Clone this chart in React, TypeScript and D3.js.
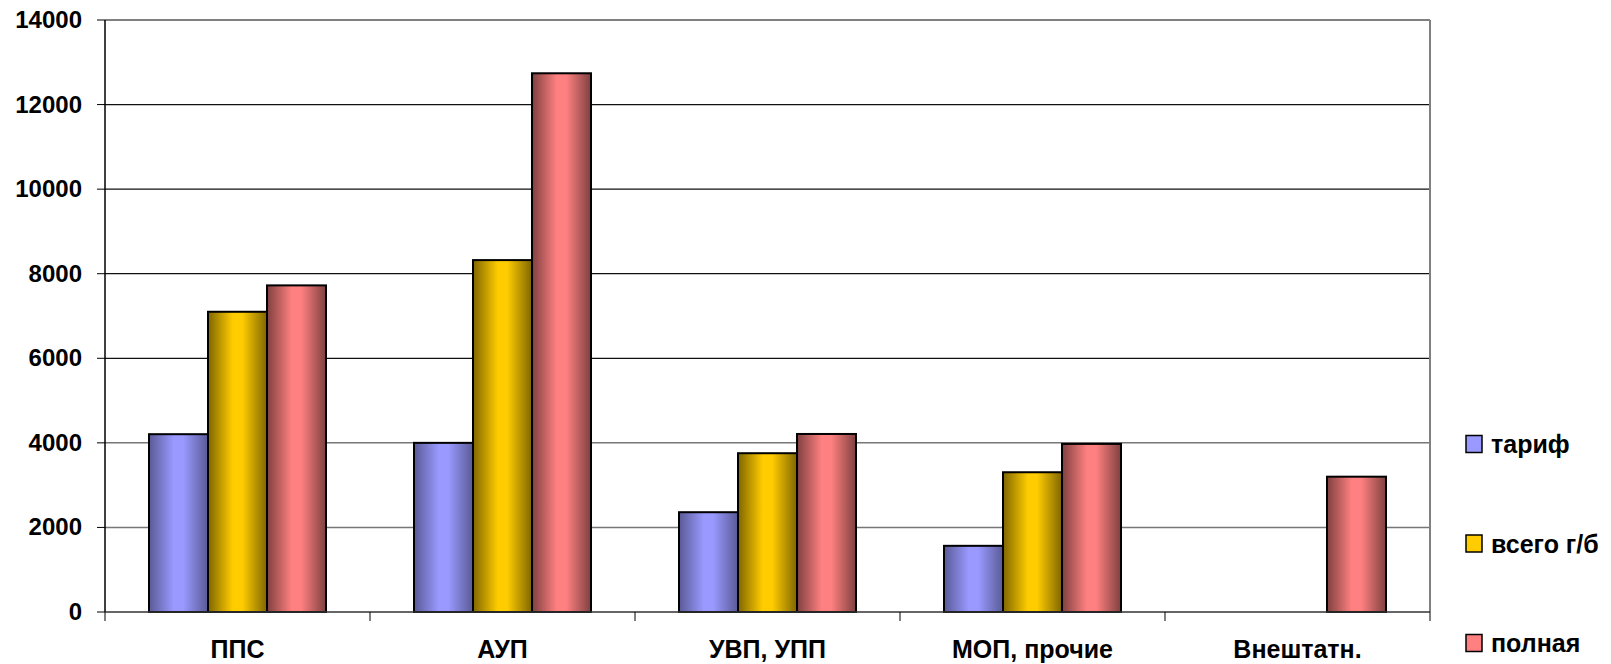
import React from "react";
import * as d3 from "d3";

const categories = ["ППС", "АУП", "УВП, УПП", "МОП, прочие", "Внештатн."];
const seriesNames = ["тариф", "всего г/б", "полная"];
const tarif = [4205, 4000, 2360, 1565, 0];
const vsegoGB = [7100, 8322, 3755, 3305, 0];
const polnaya = [7724, 12740, 4210, 3975, 3200];
const yTicks = [0, 2000, 4000, 6000, 8000, 10000, 12000, 14000];
const seriesColors = ["#9999FF", "#FFCC00", "#FF8080"];
const seriesDark = ["#5a5a96", "#7f6600", "#7f4040"];

const W = 1611, H = 664;
const L = 105, R = 1430, T = 20, B = 612;
const FONT = "'Liberation Sans', Arial, sans-serif";

export default function App() {
  const series = [tarif, vsegoGB, polnaya];
  const y = d3.scaleLinear().domain([0, 14000]).range([B, T]);
  const pIn = 88 / 265;
  const x0 = d3.scaleBand<string>().domain(categories).range([L, R]).paddingInner(pIn).paddingOuter(pIn / 2);
  const x1 = d3.scaleBand<number>().domain([0, 1, 2]).range([0, x0.bandwidth()]).padding(0);
  const step = x0.step();

  return (
    <svg width={W} height={H} style={{ position: "absolute", left: 0, top: 0 }} fontFamily={FONT}>
      <defs>
        {seriesColors.map((c, i) => (
          <linearGradient key={i} id={`g${i}`} x1="0" x2="1" y1="0" y2="0">
            <stop offset="0%" stopColor={seriesDark[i]} />
            <stop offset="42%" stopColor={c} />
            <stop offset="58%" stopColor={c} />
            <stop offset="100%" stopColor={seriesDark[i]} />
          </linearGradient>
        ))}
      </defs>
      <rect x={0} y={0} width={W} height={H} fill="#fff" />
      {yTicks.filter(t => t > 0 && t < 14000).map(t => (
        <line key={t} x1={L} x2={R} y1={y(t)} y2={y(t)} stroke={t <= 4000 ? "#777" : "#111"} strokeWidth={t <= 4000 ? 1.5 : 1.2} />
      ))}
      <line x1={L} x2={R} y1={T} y2={T} stroke="#808080" strokeWidth={2} />
      <line x1={R} x2={R} y1={T} y2={B} stroke="#808080" strokeWidth={2} />
      {categories.map((c, ci) => (
        <g key={c} transform={`translate(${x0(c)},0)`}>
          {series.map((s, si) => s[ci] > 0 ? (
            <rect key={si} x={x1(si)} y={y(s[ci])} width={x1.bandwidth()} height={B - y(s[ci])}
              fill={`url(#g${si})`} stroke="#000" strokeWidth={2} />
          ) : null)}
        </g>
      ))}
      <line x1={L} x2={L} y1={T} y2={B} stroke="#000" strokeWidth={1.5} />
      <line x1={L} x2={R} y1={B} y2={B} stroke="#333" strokeWidth={1.5} />
      {yTicks.map(t => (
        <g key={t}>
          <line x1={L - 8} x2={L} y1={y(t)} y2={y(t)} stroke="#000" strokeWidth={1} />
          <text x={82} y={y(t) + 8} textAnchor="end" fontSize={24} fontWeight="bold" fill="#000">{t}</text>
        </g>
      ))}
      {d3.range(categories.length + 1).map(k => (
        <line key={k} x1={L + k * step} x2={L + k * step} y1={B} y2={B + 9} stroke="#000" strokeWidth={1} />
      ))}
      {categories.map(c => (
        <text key={c} x={(x0(c) as number) + x0.bandwidth() / 2} y={658} textAnchor="middle" fontSize={25} fontWeight="bold" fill="#000">{c}</text>
      ))}
      {seriesNames.map((n, i) => {
        const cy = 444 + i * 99.5;
        return (
          <g key={n}>
            <rect x={1466} y={cy - 8.5} width={16} height={17} fill={seriesColors[i]} stroke="#000" strokeWidth={1.5} />
            <text x={1491} y={cy + 9} fontSize={25} fontWeight="bold" fill="#000">{n}</text>
          </g>
        );
      })}
    </svg>
  );
}
